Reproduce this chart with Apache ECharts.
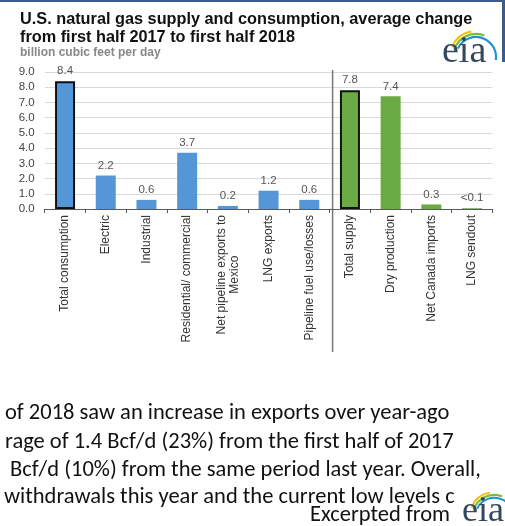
<!DOCTYPE html>
<html><head><meta charset="utf-8">
<script src="https://cdn.jsdelivr.net/npm/echarts@6/dist/echarts.min.js"></script>
<style>html,body{margin:0;padding:0;background:#fff}#c{width:505px;height:526px}</style>
</head><body><div id="c"></div>
<script>
const categories = ['Total consumption','Electric','Industrial','Residential/ commercial','Net pipeline exports to\nMexico','LNG exports','Pipeline fuel use/losses','Total supply','Dry production','Net Canada imports','LNG sendout'];
const values = [8.4, 2.2, 0.6, 3.7, 0.2, 1.2, 0.6, 7.8, 7.4, 0.3, 0.05];
const valueLabels = ['8.4','2.2','0.6','3.7','0.2','1.2','0.6','7.8','7.4','0.3','<0.1'];
const groups = ['consumption','consumption','consumption','consumption','consumption','consumption','consumption','supply','supply','supply','supply'];
const isTotal = [true,false,false,false,false,false,false,true,false,false,false];
const yMin = 0, yMax = 9, yStep = 1;
const titleLines = ['U.S. natural gas supply and consumption, average change','from first half 2017 to first half 2018'];
const subtitle = 'billion cubic feet per day';
const bodyLines = ['of 2018 saw an increase in exports over year-ago','rage of 1.4 Bcf/d (23%) from the first half of 2017','Bcf/d (10%) from the same period last year. Overall,','withdrawals this year and the current low levels c'];
const footer = 'Excerpted from';

const groupColor = {consumption:'#5597d6', supply:'#6aab45'};
const chart = echarts.init(document.getElementById('c'), null, {renderer:'canvas'});
const sans = '"Liberation Sans", Arial, sans-serif';

function logo(x, yMid, s) {
  // x = left of "eia", yMid = vertical middle of the text box
  const cx = x + 34 * s, cy = yMid + 5 * s;
  return [
    {type:'arc', shape:{cx:cx, cy:cy, r:26*s, startAngle:-2.75, endAngle:-1.75}, style:{stroke:'#f2c41a', lineWidth:2.2*s, fill:null}},
    {type:'arc', shape:{cx:cx, cy:cy, r:23*s, startAngle:-2.8, endAngle:-1.2}, style:{stroke:'#7dbb3c', lineWidth:2.2*s, fill:null}},
    {type:'arc', shape:{cx:cx, cy:cy, r:20*s, startAngle:-2.7, endAngle:0.15}, style:{stroke:'#1f93d0', lineWidth:2.2*s, fill:null}},
    {type:'text', x:x, y:yMid, style:{text:'eia', font:(38*s)+'px "Liberation Serif", "DejaVu Serif", serif', fill:'#34475c', verticalAlign:'middle', align:'left'}}
  ];
}

const option = {
  animation:false,
  backgroundColor:'#fff',
  grid:{left:44.7, right:12.6, top:72, bottom:317},
  xAxis:{
    type:'category', data:categories,
    axisLine:{lineStyle:{color:'#595959', width:1}},
    axisTick:{show:true, length:4, interval:0, lineStyle:{color:'#595959'}},
    axisLabel:{interval:0, rotate:90, margin:6, color:'#333', fontSize:12, fontFamily:sans,
      formatter:v => v.split('\n').map(s => '{c|' + s + '}').join('\n'),
      rich:{c:{align:'center', fontSize:12, color:'#333', lineHeight:13, fontFamily:sans}}}
  },
  yAxis:{
    type:'value', min:yMin, max:yMax, interval:yStep,
    axisLine:{show:false}, axisTick:{show:false},
    axisLabel:{formatter:v => v.toFixed(1), color:'#444', fontSize:11.5, margin:10, fontFamily:sans},
    splitLine:{lineStyle:{color:'#d9d9d9', width:1}}
  },
  series:[{
    type:'bar', barWidth:20,
    data:values.map((v,i) => ({value:v, itemStyle:{color:groupColor[groups[i]], borderColor:isTotal[i]?'#111':'transparent', borderWidth:isTotal[i]?2:0},
      label:{formatter:valueLabels[i]}})),
    label:{show:true, position:'top', distance:4, color:'#555', fontSize:11.5, fontFamily:sans}
  }]
};
chart.setOption(option);

const x6 = chart.convertToPixel({xAxisIndex:0}, 6);
const x7 = chart.convertToPixel({xAxisIndex:0}, 7);
const sepX = (x6 + x7) / 2 + 3;
const bodyFont = '22.5px Carlito, Lato, "Open Sans", sans-serif';
function txt(x, y, t, font, fill) {
  return {type:'text', x:x, y:y, style:{text:t, font:font, fill:fill, verticalAlign:'middle', align:'left'}};
}
const els = [
  {type:'rect', shape:{x:0, y:0, width:505, height:2}, style:{fill:'#3c5a8c'}},
  {type:'rect', shape:{x:502, y:0, width:3, height:62}, style:{fill:'#3c5a8c'}},
  txt(20, 20, titleLines[0], 'bold 16.3px ' + sans, '#111'),
  txt(20, 38, titleLines[1], 'bold 16.3px ' + sans, '#111'),
  txt(20, 53, subtitle, 'bold 12px ' + sans, '#888'),
  {type:'line', shape:{x1:sepX, y1:70, x2:sepX, y2:352}, style:{stroke:'#777', lineWidth:1.5}},
  txt(5, 413, bodyLines[0], bodyFont, '#111'),
  txt(5, 442, bodyLines[1], bodyFont, '#111'),
  txt(10, 470, bodyLines[2], bodyFont, '#111'),
  txt(4, 497, bodyLines[3], bodyFont, '#111'),
  {type:'rect', shape:{x:466, y:486, width:39, height:20}, style:{fill:'#fff'}},
  txt(310, 515, footer, bodyFont, '#111')
].concat(logo(442, 52, 1)).concat(logo(462, 512, 0.95));
chart.setOption({graphic:{elements:els}});
</script></body></html>
